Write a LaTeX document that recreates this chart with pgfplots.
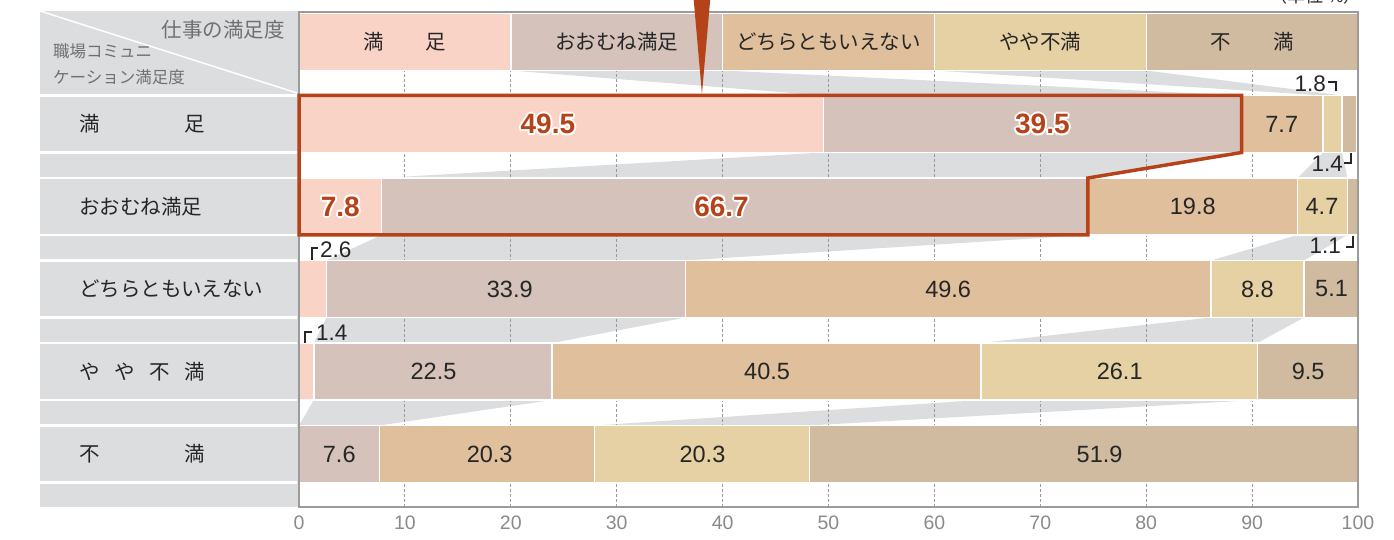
\documentclass[border=0pt]{standalone}
\usepackage{fontspec}
\setmainfont{Noto Sans CJK JP}
\newfontfamily\num{Liberation Sans}
\usepackage{pgfplots}
\pgfplotsset{compat=1.18}
\definecolor{cA}{HTML}{FAD3C7}
\definecolor{cB}{HTML}{D4C2BB}
\definecolor{cC}{HTML}{E0BF9C}
\definecolor{cD}{HTML}{E6D1A4}
\definecolor{cE}{HTML}{D0BAA0}
\definecolor{panel}{HTML}{DCDDDF}
\definecolor{frameg}{HTML}{9B9B9B}
\definecolor{gridc}{HTML}{9A9A9A}
\definecolor{tickg}{HTML}{8A8A8A}
\definecolor{rust}{HTML}{B5431A}
\definecolor{txt}{HTML}{262626}
\definecolor{hdr}{HTML}{707070}
\newcommand\fs[1]{\fontsize{#1bp}{#1bp}\selectfont}
\tikzset{
  lab/.style={font=\num\fs{23.5}, text=txt, inner sep=0pt},
  hl/.style={font=\num\fs{28}\bfseries, inner sep=0pt},
  sl/.style={font=\num\fs{22.5}, text=txt, inner sep=0pt},
  hd/.style={font=\fs{20.5}, text=txt, inner sep=0pt},
  rl/.style={font=\fs{20.5}, text=txt, inner sep=0pt, anchor=west},
  corner/.style={draw=txt, line width=1.1bp},
}
\newcommand\halo[3]{%
\node[hl,text=white,xshift=2bp] at (axis cs:#1,#2) {#3};
\node[hl,text=white,xshift=-2bp] at (axis cs:#1,#2) {#3};
\node[hl,text=white,yshift=2bp] at (axis cs:#1,#2) {#3};
\node[hl,text=white,yshift=-2bp] at (axis cs:#1,#2) {#3};
\node[hl,text=white,xshift=1.4bp,yshift=1.4bp] at (axis cs:#1,#2) {#3};
\node[hl,text=white,xshift=-1.4bp,yshift=1.4bp] at (axis cs:#1,#2) {#3};
\node[hl,text=white,xshift=1.4bp,yshift=-1.4bp] at (axis cs:#1,#2) {#3};
\node[hl,text=white,xshift=-1.4bp,yshift=-1.4bp] at (axis cs:#1,#2) {#3};
\node[hl,text=rust] at (axis cs:#1,#2) {#3};}
\pgfplotsset{geom/.style={at={(299bp,33bp)}, anchor=south west, width=1059bp, height=495bp,
  scale only axis, xmin=0, xmax=100, ymin=0, ymax=495}}
\begin{document}
\begin{tikzpicture}
\useasboundingbox (0,0) rectangle (1394bp,540bp);
% left panel (pixel coordinates, y downwards)
\begin{scope}[shift={(0pt,540bp)}, x=1bp, y=-1bp]
  \fill[panel] (40,11) rectangle (298,507);
  \draw[white, line width=1.5bp] (40,11) -- (297,93);
  \foreach \yy in {95.5,152.5,178,235,260.5,317.5,343,400,425.5,482.5}
    \draw[white, line width=2.5bp] (40,\yy) -- (297,\yy);
  \node[font=\fs{20.5}, text=hdr, inner sep=0pt, anchor=east] at (285,30) {仕事の満足度};
  \node[font=\fs{16.5}, text=hdr, inner sep=0pt, anchor=west] at (53,51) {職場コミュニ};
  \node[font=\fs{16.5}, text=hdr, inner sep=0pt, anchor=west] at (53,77) {ケーション満足度};
  \node[rl] at (79,124) {\hbox to 126bp{満\hfill 足}};
  \node[rl] at (79,206.5) {おおむね満足};
  \node[rl] at (79,289) {どちらともいえない};
  \node[rl] at (79,371.5) {\hbox to 126bp{や\hfill や\hfill 不\hfill 満}};
  \node[rl] at (79,454) {\hbox to 126bp{不\hfill 満}};
\end{scope}

% axis 1: connecting bands and grid
\begin{axis}[geom, hide axis, clip=false]
  % gap header -> row 1
  \addplot[fill=panel, draw=none] coordinates {(20,436.5) (40,436.5) (89,411.5) (49.5,411.5)} -- cycle;
  \addplot[fill=panel, draw=none] coordinates {(60,436.5) (80,436.5) (98.5,411.5) (96.7,411.5)} -- cycle;
  % row 1 -> row 2
  \addplot[fill=panel, draw=none] coordinates {(49.5,354.5) (89,354.5) (74.5,329) (7.8,329)} -- cycle;
  \addplot[fill=panel, draw=none] coordinates {(96.7,354.5) (98.5,354.5) (99.0,329) (94.3,329)} -- cycle;
  % row 2 -> row 3
  \addplot[fill=panel, draw=none] coordinates {(7.8,272) (74.5,272) (36.5,246.5) (2.6,246.5)} -- cycle;
  \addplot[fill=panel, draw=none] coordinates {(94.3,272) (99.0,272) (94.9,246.5) (86.1,246.5)} -- cycle;
  % row 3 -> row 4
  \addplot[fill=panel, draw=none] coordinates {(2.6,189.5) (36.5,189.5) (23.9,164) (1.4,164)} -- cycle;
  \addplot[fill=panel, draw=none] coordinates {(86.1,189.5) (94.9,189.5) (90.5,164) (64.4,164)} -- cycle;
  % row 4 -> row 5
  \addplot[fill=panel, draw=none] coordinates {(1.4,107) (23.9,107) (7.6,81.5) (0,81.5)} -- cycle;
  \addplot[fill=panel, draw=none] coordinates {(64.4,107) (90.5,107) (48.2,81.5) (27.9,81.5)} -- cycle;
  % grid
  \addplot[ycomb, mark=none, draw=gridc, dash pattern=on 3bp off 2bp, line width=1.1bp]
    coordinates {(10,436.5) (20,436.5) (30,436.5) (40,436.5) (50,436.5) (60,436.5) (70,436.5) (80,436.5) (90,436.5)};
\end{axis}

% axis 2: stacked bars
\begin{axis}[geom, xbar stacked, bar width=57, axis on top,
  axis line style={draw=frameg, line width=2.5bp},
  ytick=\empty, xtick={0,10,...,100}, xticklabels={0,10,20,30,40,50,60,70,80,90,100},
  major tick length=0pt,
  xticklabel style={text=tickg, font=\num\fs{19.5}, inner sep=0pt, anchor=north, yshift=-9bp}]
  \addplot[fill=cA, draw=white, line width=1.4bp] coordinates {(20,465) (49.5,383) (7.8,300.5) (2.6,218) (1.4,135.5) (0,53)};
  \addplot[fill=cB, draw=white, line width=1.4bp] coordinates {(20,465) (39.5,383) (66.7,300.5) (33.9,218) (22.5,135.5) (7.6,53)};
  \addplot[fill=cC, draw=white, line width=1.4bp] coordinates {(20,465) (7.7,383) (19.8,300.5) (49.6,218) (40.5,135.5) (20.3,53)};
  \addplot[fill=cD, draw=white, line width=1.4bp] coordinates {(20,465) (1.8,383) (4.7,300.5) (8.8,218) (26.1,135.5) (20.3,53)};
  \addplot[fill=cE, draw=white, line width=1.4bp] coordinates {(20,465) (1.4,383) (1.1,300.5) (5.1,218) (9.5,135.5) (51.9,53)};
\end{axis}

% axis 3: highlight and labels
\begin{axis}[geom, hide axis, clip=false]
  \addplot[draw=rust, line width=3.5bp, line join=miter] coordinates {(0,411.5) (89,411.5) (89,354.5) (74.5,329) (74.5,272) (0,272)} -- cycle;
  \addplot[fill=rust, draw=none] coordinates {(37.2,516) (38.9,516) (38.05,413)} -- cycle;
  % header legend labels
  \node[hd] at (axis cs:10,465) {\hbox to 83bp{満\hfill 足}};
  \node[hd] at (axis cs:30,465) {おおむね満足};
  \node[hd] at (axis cs:50,465) {どちらともいえない};
  \node[hd] at (axis cs:70,465) {やや不満};
  \node[hd] at (axis cs:90,465) {\hbox to 83bp{不\hfill 満}};
  % row 1
  \halo{23.5}{383}{49.5}
  \halo{70.2}{383}{39.5}
  \node[lab] at (axis cs:92.8,383) {7.7};
  % row 2
  \halo{3.9}{300.5}{7.8}
  \halo{39.9}{300.5}{66.7}
  \node[lab] at (axis cs:84.4,300.5) {19.8};
  \node[lab] at (axis cs:96.6,300.5) {4.7};
  % row 3
  \node[lab] at (axis cs:19.9,218) {33.9};
  \node[lab] at (axis cs:61.3,218) {49.6};
  \node[lab] at (axis cs:90.5,218) {8.8};
  \node[lab] at (axis cs:97.5,218) {5.1};
  % row 4
  \node[lab] at (axis cs:12.7,135.5) {22.5};
  \node[lab] at (axis cs:44.2,135.5) {40.5};
  \node[lab] at (axis cs:77.5,135.5) {26.1};
  \node[lab] at (axis cs:95.3,135.5) {9.5};
  % row 5
  \node[lab] at (axis cs:3.8,53) {7.6};
  \node[lab] at (axis cs:18.0,53) {20.3};
  \node[lab] at (axis cs:38.1,53) {20.3};
  \node[lab] at (axis cs:75.6,53) {51.9};
\end{axis}

% small outside labels (pixel coordinates)
\begin{scope}[shift={(0pt,540bp)}, x=1bp, y=-1bp]
  \node[sl, anchor=east] at (1326,84) {1.8};
  \draw[corner] (1328,82) -- (1336,82) -- (1336,91);
  \node[sl, anchor=east] at (1343,164) {1.4};
  \draw[corner] (1351,153) -- (1351,163) -- (1344,163);
  \node[sl, anchor=east] at (1341,246) {1.1};
  \draw[corner] (1353,236) -- (1353,247) -- (1346,247);
  \node[sl, anchor=west] at (320,250) {2.6};
  \draw[corner] (318,248) -- (312,248) -- (312,260);
  \node[sl, anchor=west] at (316,333) {1.4};
  \draw[corner] (312,332) -- (305,332) -- (305,343);
  \node[font=\fs{18}, text=txt, inner sep=0pt, anchor=base east] at (1362,3) {（単位 \%）};
\end{scope}
\end{tikzpicture}
\end{document}
